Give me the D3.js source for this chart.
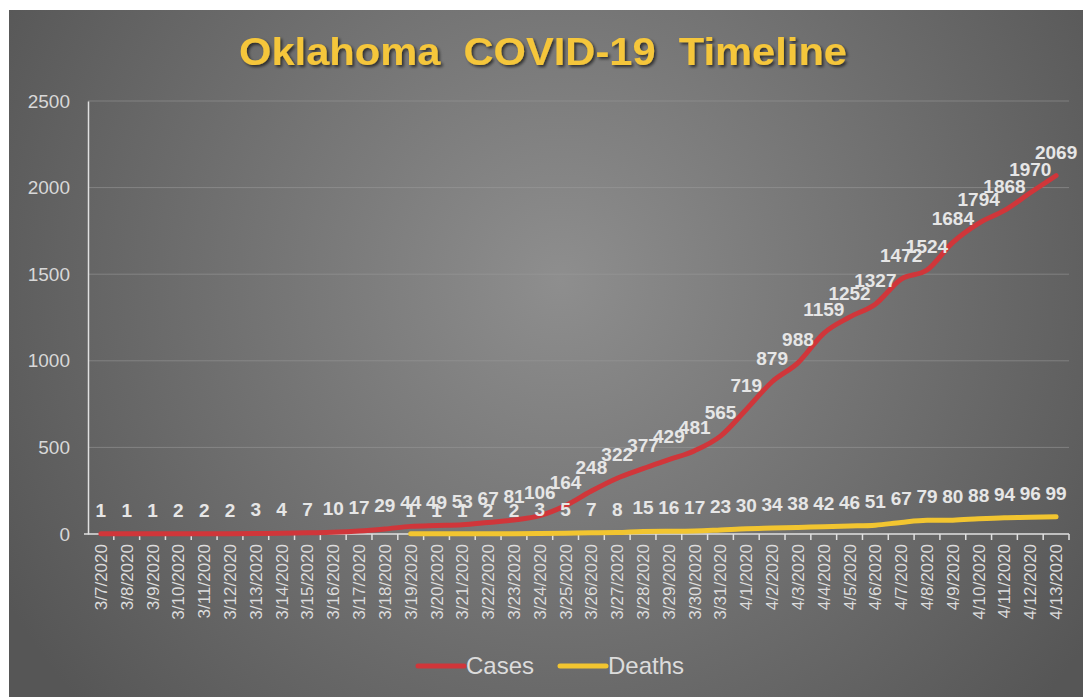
<!DOCTYPE html>
<html>
<head>
<meta charset="utf-8">
<script src="https://cdn.jsdelivr.net/npm/d3@7"></script>
<style>
    html, body { margin: 0; padding: 0; background: #fff; }
    svg { display: block; }
</style>
</head>
<body>
<svg id="chart" width="1083" height="697"></svg>
<script>
const dates = ['3/7/2020', '3/8/2020', '3/9/2020', '3/10/2020', '3/11/2020', '3/12/2020', '3/13/2020',
    '3/14/2020', '3/15/2020', '3/16/2020', '3/17/2020', '3/18/2020', '3/19/2020', '3/20/2020',
    '3/21/2020', '3/22/2020', '3/23/2020', '3/24/2020', '3/25/2020', '3/26/2020', '3/27/2020',
    '3/28/2020', '3/29/2020', '3/30/2020', '3/31/2020', '4/1/2020', '4/2/2020', '4/3/2020',
    '4/4/2020', '4/5/2020', '4/6/2020', '4/7/2020', '4/8/2020', '4/9/2020', '4/10/2020',
    '4/11/2020', '4/12/2020', '4/13/2020'];

const cases = [1, 1, 1, 2, 2, 2, 3, 4, 7, 10, 17, 29, 44, 49, 53, 67, 81, 106, 164, 248, 322, 377,
    429, 481, 565, 719, 879, 988, 1159, 1252, 1327, 1472, 1524, 1684, 1794, 1868, 1970, 2069];

// no deaths reported before 3/19
const deaths = [null, null, null, null, null, null, null, null, null, null, null, null,
    1, 1, 1, 2, 2, 3, 5, 7, 8, 15, 16, 17, 23, 30, 34, 38, 42, 46, 51, 67, 79, 80, 88, 94, 96, 99];

const yTicks = [0, 500, 1000, 1500, 2000, 2500];

const series = [
    {name: 'Cases', values: cases, color: '#d0363a'},
    {name: 'Deaths', values: deaths, color: '#f2c530'}
];

const width = 1083, height = 697;
const plot = {left: 88, right: 1069, top: 101, bottom: 534};
const sans = '"Liberation Sans", Arial, sans-serif';
const narrow = '"Liberation Sans Narrow", "Arial Narrow", "Liberation Sans", sans-serif';

const svg = d3.select('#chart');
const defs = svg.append('defs');

let bg = defs.append('radialGradient')
    .attr('id', 'bg')
    .attr('gradientUnits', 'userSpaceOnUse')
    .attr('cx', 560).attr('cy', 280).attr('r', 640);
bg.append('stop').attr('offset', '0%').attr('stop-color', '#8e8e8e');
bg.append('stop').attr('offset', '100%').attr('stop-color', '#565656');

let shadow = defs.append('filter').attr('id', 'shadow')
    .attr('x', '-10%').attr('y', '-30%').attr('width', '120%').attr('height', '160%');
shadow.append('feDropShadow')
    .attr('dx', 2).attr('dy', 2).attr('stdDeviation', 1.5)
    .attr('flood-color', '#000').attr('flood-opacity', 0.6);

svg.append('rect')
    .attr('x', 9).attr('y', 10)
    .attr('width', width - 9).attr('height', height - 10)
    .attr('fill', 'url(#bg)');

// title
svg.append('text')
    .attr('x', 543).attr('y', 65)
    .attr('text-anchor', 'middle')
    .attr('font-family', narrow)
    .attr('font-weight', 'bold')
    .attr('font-size', 38)
    .attr('textLength', 608)
    .attr('lengthAdjust', 'spacingAndGlyphs')
    .attr('fill', '#f5c63a')
    .attr('filter', 'url(#shadow)')
    .attr('xml:space', 'preserve')
    .text('Oklahoma  COVID-19  Timeline');

const x = d3.scaleBand()
    .domain(dates)
    .range([plot.left, plot.right]);

const y = d3.scaleLinear()
    .domain([0, 2500])
    .range([plot.bottom, plot.top]);

const cx = d => x(d) + x.bandwidth() / 2;

// gridlines
svg.append('g')
    .selectAll('line')
    .data(yTicks.filter(t => t > 0))
    .join('line')
    .attr('x1', plot.left).attr('x2', plot.right)
    .attr('y1', d => y(d)).attr('y2', d => y(d))
    .attr('stroke', '#9a9a9a')
    .attr('stroke-opacity', 0.55)
    .attr('stroke-width', 1);

// y axis
let yAxis = svg.append('g')
    .attr('transform', `translate(${plot.left},0)`)
    .call(d3.axisLeft(y).tickValues(yTicks).tickFormat(d3.format('d')).tickSize(0).tickPadding(18));
yAxis.select('.domain').attr('stroke', '#e0e0e0').attr('stroke-width', 1.5);
yAxis.selectAll('text')
    .attr('font-family', sans)
    .attr('font-size', 19)
    .attr('fill', '#d8d8d8');

// x axis, ticks on band edges
let xAxis = svg.append('g')
    .attr('transform', `translate(0,${plot.bottom})`);
xAxis.append('line')
    .attr('x1', plot.left - 4).attr('x2', plot.right)
    .attr('stroke', '#e0e0e0').attr('stroke-width', 1.5);
xAxis.selectAll('line.tick')
    .data(dates.slice(1).concat(['end']))
    .join('line')
    .attr('class', 'tick')
    .attr('x1', (d, i) => plot.left + (i + 1) * x.step())
    .attr('x2', (d, i) => plot.left + (i + 1) * x.step())
    .attr('y1', 0).attr('y2', 6)
    .attr('stroke', '#e0e0e0').attr('stroke-width', 1.5);
xAxis.selectAll('text')
    .data(dates)
    .join('text')
    .attr('transform', d => `translate(${cx(d) + 6},10) rotate(-90)`)
    .attr('text-anchor', 'end')
    .attr('font-family', sans)
    .attr('font-size', 17)
    .attr('fill', '#dcdcdc')
    .text(d => d);

// lines
const line = d3.line()
    .defined(d => d.v !== null)
    .x(d => cx(d.date))
    .y(d => y(d.v))
    .curve(d3.curveMonotoneX);

series.forEach(s => {
    let pts = dates.map((date, i) => ({date, v: s.values[i]}));
    svg.append('path')
        .datum(pts)
        .attr('fill', 'none')
        .attr('stroke', s.color)
        .attr('stroke-width', 5)
        .attr('stroke-linecap', 'round')
        .attr('stroke-linejoin', 'round')
        .attr('d', line);
});

// data labels (they overlap in the original too)
series.forEach(s => {
    let pts = dates.map((date, i) => ({date, v: s.values[i]})).filter(d => d.v !== null);
    svg.append('g')
        .selectAll('text')
        .data(pts)
        .join('text')
        .attr('x', d => cx(d.date))
        .attr('y', d => y(d.v) - 17)
        .attr('text-anchor', 'middle')
        .attr('font-family', sans)
        .attr('font-weight', 'bold')
        .attr('font-size', 19)
        .attr('fill', '#e6e6e6')
        .text(d => d.v);
});

// legend
let legend = svg.append('g');
let legendItems = [
    {s: series[0], x: 418},
    {s: series[1], x: 560}
];
legendItems.forEach(item => {
    legend.append('line')
        .attr('x1', item.x).attr('x2', item.x + 46)
        .attr('y1', 666).attr('y2', 666)
        .attr('stroke', item.s.color)
        .attr('stroke-width', 5)
        .attr('stroke-linecap', 'round');
    legend.append('text')
        .attr('x', item.x + 48).attr('y', 674)
        .attr('font-family', sans)
        .attr('font-size', 24)
        .attr('fill', '#dcdcdc')
        .text(item.s.name);
});
</script>
</body>
</html>
